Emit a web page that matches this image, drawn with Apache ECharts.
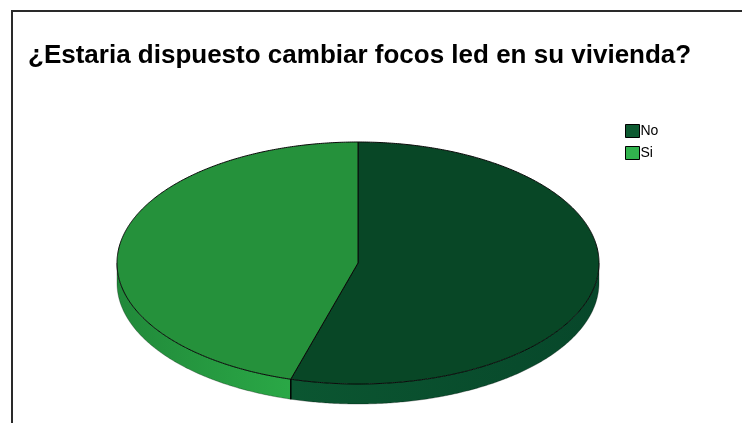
<!DOCTYPE html>
<html>
<head>
<meta charset="utf-8">
<script src="https://cdn.jsdelivr.net/npm/echarts@6/dist/echarts.min.js"></script>
<style>
  html, body { margin: 0; padding: 0; background: #ffffff; }
  #chart { width: 742px; height: 423px; }
</style>
</head>
<body>
<div id="chart"></div>
<script>
// Answers to the survey question (percent of respondents)
const categories = ['No', 'Si'];
const values = [54.5, 45.5];

// Palette: top face, legend swatch, side gradient (back end -> front end)
const topColors = ['#084726', '#25913b'];
const swatchColors = ['#0d5a31', '#31b44e'];
const sideColors = [['#07472a', '#0b5631'], ['#21893a', '#2aa846']];

// Layout of the tilted disc
const disc = { cx: 358, cy: 263, rx: 241, ry: 121, depth: 20 };

const total = values.reduce((a, b) => a + b, 0);

function pointAt(theta, dy) {
  // theta measured clockwise from 12 o'clock
  return [disc.cx + disc.rx * Math.sin(theta), disc.cy - disc.ry * Math.cos(theta) + (dy || 0)];
}

function arcPoints(a0, a1, dy) {
  const pts = [];
  const n = Math.max(2, Math.ceil(Math.abs(a1 - a0) / (Math.PI / 360)));
  for (let i = 0; i <= n; i++) pts.push(pointAt(a0 + (a1 - a0) * i / n, dy));
  return pts;
}

function sliceRenderer(s) {
  return function (params, api) {
    let before = 0;
    for (let i = 0; i < s; i++) before += values[i];
    const v = api.value(0);
    const a0 = before / total * 2 * Math.PI;
    const a1 = (before + v) / total * 2 * Math.PI;
    const children = [];

    // Visible side wall: the part of the rim facing the viewer (90deg..270deg)
    const f0 = Math.max(a0, Math.PI / 2);
    const f1 = Math.min(a1, Math.PI * 3 / 2);
    if (f1 > f0) {
      const upper = arcPoints(f0, f1, 0);
      const lower = arcPoints(f1, f0, disc.depth);
      const pA = pointAt(f0, 0), pB = pointAt(f1, 0);
      const backX = (s === 0) ? Math.max(pA[0], pB[0]) : Math.min(pA[0], pB[0]);
      const frontX = (s === 0) ? Math.min(pA[0], pB[0]) : Math.max(pA[0], pB[0]);
      children.push({
        type: 'polygon',
        z2: 1,
        shape: { points: upper.concat(lower) },
        style: {
          fill: new echarts.graphic.LinearGradient(backX, 0, frontX, 0, [
            { offset: 0, color: sideColors[s][0] },
            { offset: 1, color: sideColors[s][1] }
          ], true),
          stroke: 'rgba(0,0,0,0.35)',
          lineWidth: 0.8
        }
      });
      // vertical edge where the slice meets its neighbour at the front
      [a0, a1].forEach(function (a) {
        if (a > Math.PI / 2 && a < Math.PI * 3 / 2) {
          const p = pointAt(a, 0);
          children.push({
            type: 'line', z2: 3,
            shape: { x1: p[0], y1: p[1], x2: p[0], y2: p[1] + disc.depth },
            style: { stroke: '#000', lineWidth: 1 }
          });
        }
      });
    }

    // Top face of the slice
    children.push({
      type: 'polygon',
      z2: 2,
      shape: { points: [[disc.cx, disc.cy]].concat(arcPoints(a0, a1, 0)) },
      style: { fill: topColors[s], stroke: '#0a0a0a', lineWidth: 1, lineJoin: 'round' }
    });

    return { type: 'group', children: children };
  };
}

const chart = echarts.init(document.getElementById('chart'), null, { renderer: 'canvas' });

chart.setOption({
  backgroundColor: '#ffffff',
  animation: false,
  title: {
    text: '¿Estaria dispuesto cambiar focos led en su vivienda?',
    left: 23,
    top: 38,
    textStyle: {
      fontFamily: 'Liberation Sans, Arial, sans-serif',
      fontSize: 26,
      fontWeight: 'bold',
      color: '#000000'
    }
  },
  legend: {
    orient: 'vertical',
    left: 620,
    top: 119,
    itemWidth: 14,
    itemHeight: 13,
    itemGap: 8,
    icon: 'rect',
    data: categories,
    itemStyle: { borderColor: '#000000', borderWidth: 1 },
    textStyle: {
      fontFamily: 'Liberation Sans, Arial, sans-serif',
      fontSize: 14,
      color: '#000000',
      padding: [0, 0, 0, -4]
    }
  },
  graphic: [{
    type: 'polyline',
    shape: { points: [[12, 430], [12, 11], [750, 11]] },
    style: { stroke: '#2a2a2a', lineWidth: 2, fill: null }
  }],
  series: categories.map(function (name, s) {
    return {
      type: 'custom',
      name: name,
      coordinateSystem: 'none',
      itemStyle: { color: swatchColors[s] },
      data: [values[s]],
      renderItem: sliceRenderer(s)
    };
  })
});
</script>
</body>
</html>
